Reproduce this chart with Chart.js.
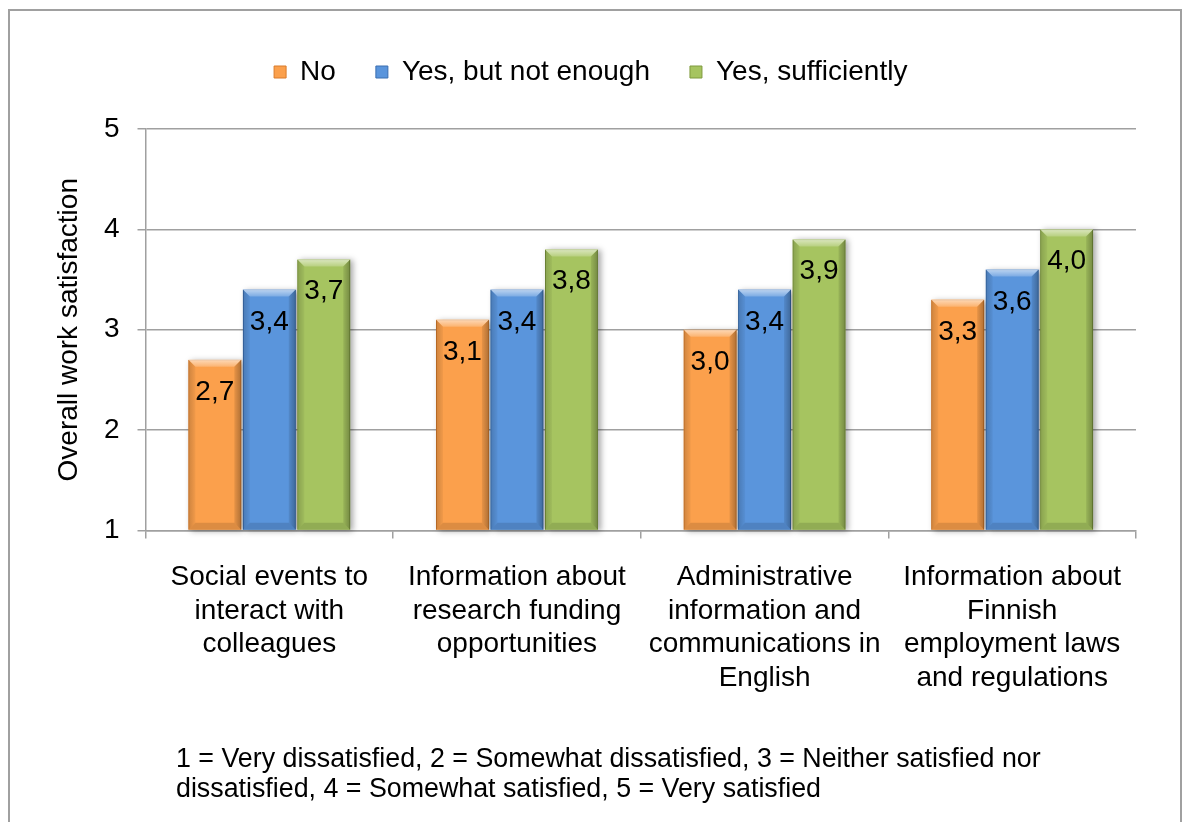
<!DOCTYPE html>
<html>
<head>
<meta charset="utf-8">
<title>Overall work satisfaction</title>
<script src="https://cdn.jsdelivr.net/npm/chart.js@4.4.1/dist/chart.umd.min.js"></script>
<style>
    html, body { margin: 0; padding: 0; background: #fff; overflow: hidden; }
    #wrap { position: relative; width: 1187px; height: 822px; }
    #frame {
        position: absolute; left: 8px; top: 9px; width: 1174px; height: 900px;
        box-sizing: border-box; border: 2px solid #a0a0a0; pointer-events: none;
    }
    #note {
        position: absolute; left: 176px; top: 743px;
        font-family: "Liberation Sans", Arial, sans-serif; font-size: 26.8px; line-height: 30px;
        color: #000;
    }
</style>
</head>
<body>
<div id="wrap">
    <canvas id="chart" width="1187" height="822"></canvas>
    <div id="frame"></div>
    <div id="note">1 = Very dissatisfied, 2 = Somewhat dissatisfied, 3 = Neither satisfied nor<br>dissatisfied, 4 = Somewhat satisfied, 5 = Very satisfied</div>
</div>
<script>
const categories = [
    ['Social events to', 'interact with', 'colleagues'],
    ['Information about', 'research funding', 'opportunities'],
    ['Administrative', 'information and', 'communications in', 'English'],
    ['Information about', 'Finnish', 'employment laws', 'and regulations']
];
const seriesNames = ['No', 'Yes, but not enough', 'Yes, sufficiently'];
const noValues = [2.7, 3.1, 3.0, 3.3];
const notEnoughValues = [3.4, 3.4, 3.4, 3.6];
const sufficientValues = [3.7, 3.8, 3.9, 4.0];
const yTicks = [1, 2, 3, 4, 5];

const FONT = '"Liberation Sans", Arial, sans-serif';
const fills = ['#fba04c', '#5a95dc', '#a6c460'];
const edges = ['#d97b2a', '#3a6eb0', '#7f9a3e'];

Chart.defaults.font.family = FONT;
Chart.defaults.color = '#000';

// push the plot area down a bit below the legend row
const legendGap = {
    id: 'legendGap',
    beforeInit(chart) {
        const fit = chart.legend.fit;
        chart.legend.fit = function () {
            fit.call(this);
            this.height += 33;
        };
    }
};

// soft shadow on the right side of each bar
const barShadow = {
    id: 'barShadow',
    beforeDatasetsDraw(chart) {
        const ctx = chart.ctx;
        ctx.save();
        ctx.shadowColor = 'rgba(0,0,0,0.35)';
        ctx.shadowBlur = 6;
        ctx.shadowOffsetX = 3;
        ctx.shadowOffsetY = 1;
        chart.data.datasets.forEach((ds, i) => {
            ctx.fillStyle = fills[i];
            chart.getDatasetMeta(i).data.forEach(bar => {
                const p = bar.getProps(['x', 'y', 'base', 'width'], true);
                ctx.fillRect(p.x - p.width / 2, p.y, p.width, p.base - p.y);
            });
        });
        ctx.restore();
    }
};

// bevelled edges plus the value written inside the top of each bar
const bevelLabels = {
    id: 'bevelLabels',
    afterDatasetsDraw(chart) {
        const ctx = chart.ctx;
        ctx.save();
        chart.data.datasets.forEach((ds, i) => {
            chart.getDatasetMeta(i).data.forEach((bar, j) => {
                const p = bar.getProps(['x', 'y', 'base', 'width'], true);
                const l = p.x - p.width / 2, r = p.x + p.width / 2;
                const t = p.y, b = p.base, e = 7;

                let g = ctx.createLinearGradient(0, t, 0, t + e);
                g.addColorStop(0, 'rgba(255,255,255,0.6)');
                g.addColorStop(1, 'rgba(255,255,255,0.2)');
                ctx.fillStyle = g;
                ctx.beginPath();
                ctx.moveTo(l, t); ctx.lineTo(r, t); ctx.lineTo(r - e, t + e); ctx.lineTo(l + e, t + e);
                ctx.closePath(); ctx.fill();

                g = ctx.createLinearGradient(l, 0, l + e, 0);
                g.addColorStop(0, 'rgba(0,0,0,0.18)');
                g.addColorStop(1, 'rgba(0,0,0,0.04)');
                ctx.fillStyle = g;
                ctx.beginPath();
                ctx.moveTo(l, t); ctx.lineTo(l + e, t + e); ctx.lineTo(l + e, b - e); ctx.lineTo(l, b);
                ctx.closePath(); ctx.fill();

                g = ctx.createLinearGradient(r, 0, r - e, 0);
                g.addColorStop(0, 'rgba(0,0,0,0.3)');
                g.addColorStop(1, 'rgba(0,0,0,0.08)');
                ctx.fillStyle = g;
                ctx.beginPath();
                ctx.moveTo(r, t); ctx.lineTo(r - e, t + e); ctx.lineTo(r - e, b - e); ctx.lineTo(r, b);
                ctx.closePath(); ctx.fill();

                ctx.fillStyle = 'rgba(0,0,0,0.12)';
                ctx.beginPath();
                ctx.moveTo(l, b); ctx.lineTo(l + e, b - e); ctx.lineTo(r - e, b - e); ctx.lineTo(r, b);
                ctx.closePath(); ctx.fill();

                ctx.fillStyle = '#000';
                ctx.font = '28px ' + FONT;
                ctx.textAlign = 'center';
                ctx.textBaseline = 'alphabetic';
                ctx.fillText(ds.data[j].toFixed(1).replace('.', ','), p.x, t + 40);
            });
        });
        ctx.restore();
    }
};

const gridColor = '#a0a0a0';

new Chart(document.getElementById('chart'), {
    type: 'bar',
    data: {
        labels: categories,
        datasets: [noValues, notEnoughValues, sufficientValues].map((vals, i) => ({
            label: seriesNames[i],
            data: vals,
            base: yTicks[0],
            backgroundColor: fills[i],
            borderColor: edges[i],
            borderWidth: 1,
            barPercentage: 0.97,
            categoryPercentage: 0.66
        }))
    },
    options: {
        responsive: false,
        animation: false,
        layout: { padding: { left: 45.5, right: 51, top: 18, bottom: 111.5 } },
        plugins: {
            tooltip: { enabled: false },
            legend: {
                position: 'top',
                labels: {
                    font: { size: 28 },
                    boxWidth: 12,
                    boxHeight: 12,
                    padding: 40
                }
            }
        },
        scales: {
            x: {
                grid: { display: true, drawOnChartArea: false, offset: true, tickLength: 8, color: gridColor, lineWidth: 1.5 },
                border: { color: gridColor, width: 1.5 },
                ticks: { font: { size: 28, lineHeight: 1.2 }, color: '#000', autoSkip: false, maxRotation: 0, padding: 22 },
                afterFit: s => { s.height = 180; }
            },
            y: {
                min: yTicks[0],
                max: yTicks[yTicks.length - 1],
                afterBuildTicks: s => { s.ticks = yTicks.map(v => ({ value: v })); },
                grid: { color: gridColor, lineWidth: 1.5, tickLength: 8 },
                border: { color: gridColor, width: 1.5 },
                ticks: { font: { size: 28 }, color: '#000', padding: 18 },
                title: {
                    display: true,
                    text: 'Overall work satisfaction',
                    font: { size: 28, lineHeight: 1.2 },
                    color: '#000',
                    padding: { top: 7 }
                },
                afterFit: s => { s.width = 100; }
            }
        }
    },
    plugins: [legendGap, barShadow, bevelLabels]
});
</script>
</body>
</html>
